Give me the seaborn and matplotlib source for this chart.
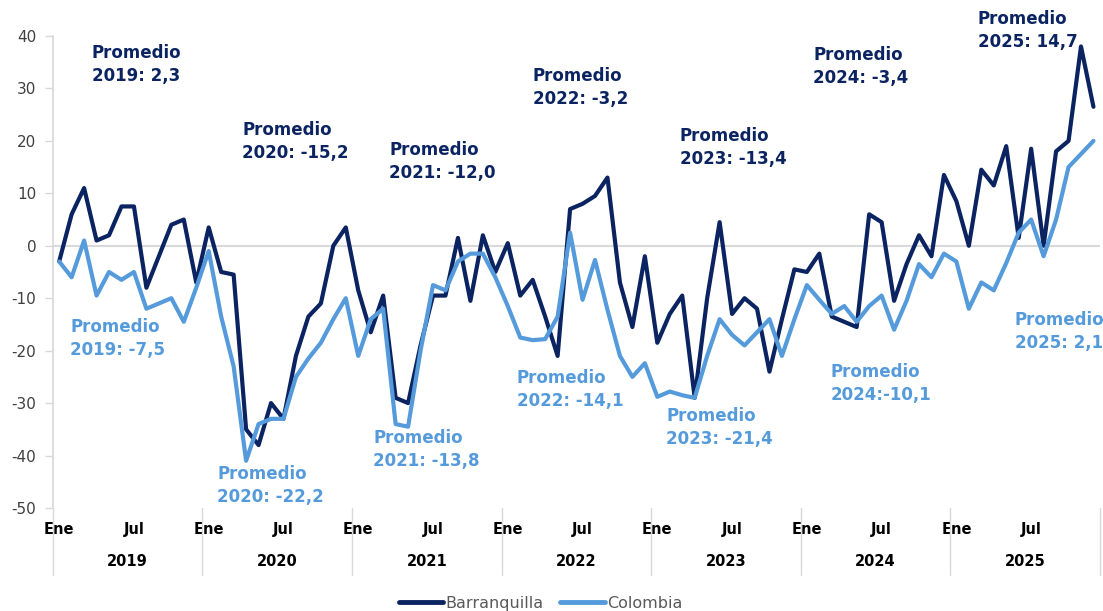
import numpy as np
import pandas as pd
import matplotlib
matplotlib.use("Agg")
import matplotlib.pyplot as plt
import matplotlib.transforms as mtransforms
import seaborn as sns

#########################
## Data (monthly, Ene 2019 - Dic 2025)
years = ["2019", "2020", "2021", "2022", "2023", "2024", "2025"]
month_ticks = ["Ene", "Jul"]

barranquilla = [
    -3, 6, 11, 1, 2, 7.5, 7.5, -8, -2, 4, 5, -7,              # 2019
    3.5, -5, -5.5, -35, -38, -30, -33, -21, -13.5, -11, 0, 3.5,  # 2020
    -8.5, -16.5, -9.5, -29, -30, -19, -9.5, -9.5, 1.5, -10.5, 2, -5,  # 2021
    0.5, -9.5, -6.5, -13.5, -21, 7, 8, 9.5, 13, -7, -15.5, -2,   # 2022
    -18.5, -13, -9.5, -29, -10, 4.5, -13, -10, -12, -24, -14, -4.5,  # 2023
    -5, -1.5, -13.5, -14.5, -15.5, 6, 4.5, -10.5, -3.5, 2, -2, 13.5,  # 2024
    8.5, 0, 14.5, 11.5, 19, 1.5, 18.5, 0, 18, 20, 38, 26.5,    # 2025
]
colombia = [
    -3, -6, 1, -9.5, -5, -6.5, -5, -12, -11, -10, -14.5, -8,    # 2019
    -1, -13.5, -23, -41, -34, -33, -33, -25, -21.5, -18.5, -14, -10,  # 2020
    -21, -14, -12, -34, -34.5, -20, -7.5, -8.5, -3, -1.5, -1.5, -6,  # 2021
    -11.5, -17.5, -18, -17.8, -13.5, 2.5, -10.3, -2.7, -12.2, -21, -25, -22.4,  # 2022
    -28.8, -27.8, -28.5, -29, -21, -14, -17, -19, -16.5, -14, -21, -14,  # 2023
    -7.5, -10.3, -13, -11.5, -14.5, -11.5, -9.5, -16, -10.5, -3.5, -6, -1.5,  # 2024
    -3, -12, -7, -8.5, -3.3, 2.5, 5, -2, 5, 15, 17.5, 20,      # 2025
]

prom_barranquilla = ["2019: 2,3", "2020: -15,2", "2021: -12,0", "2022: -3,2",
                     "2023: -13,4", "2024: -3,4", "2025: 14,7"]
prom_colombia = ["2019: -7,5", "2020: -22,2", "2021: -13,8", "2022: -14,1",
                 "2023: -21,4", "2024:-10,1", "2025: 2,1"]

# label anchors (month index, value of top edge)
pos_barranquilla = [(2.6, 38.5), (14.7, 23.7), (26.5, 20.0), (38.0, 34.0),
                    (49.8, 22.7), (60.5, 38.0), (73.7, 45.0)]
pos_colombia = [(0.9, -13.7), (12.7, -41.8), (25.2, -34.9), (36.7, -23.5),
                (48.7, -30.7), (61.9, -22.3), (76.7, -12.4)]

dark = "#0B2461"
light = "#559BDB"
grey = "#D9D9D9"

n = len(barranquilla)
df = pd.DataFrame({
    "mes": list(range(n)) * 2,
    "valor": barranquilla + colombia,
    "serie": ["Barranquilla"] * n + ["Colombia"] * n,
})

#########################
## Plot
sns.set_theme(style="white")
plt.rcParams["font.family"] = ["DejaVu Sans"]

fig = plt.figure(figsize=(11.03, 6.11), dpi=100)
ax = fig.add_axes([0.048, 0.1686, 0.949, 0.7725])

ax.axhline(0, color=grey, lw=1.5, zorder=0)

sns.lineplot(data=df, x="mes", y="valor", hue="serie",
             palette={"Barranquilla": dark, "Colombia": light},
             hue_order=["Barranquilla", "Colombia"],
             lw=3, ax=ax, solid_joinstyle="round", solid_capstyle="round")

ax.set_xlim(-0.5, n - 0.5)
ax.set_ylim(-50, 40)
ax.set_xlabel("")
ax.set_ylabel("")

yt = list(range(-50, 41, 10))
ax.set_yticks(yt)
ax.set_yticklabels([str(v) for v in yt], fontsize=11, color="#404040")
ax.tick_params(axis="y", length=6, color=grey, width=1, pad=6, left=True)

xt = []
xl = []
for i in range(len(years)):
    xt += [12 * i, 12 * i + 6]
    xl += month_ticks
ax.set_xticks(xt)
ax.set_xticklabels(xl, fontsize=10.5, fontweight="bold", color="black")
ax.tick_params(axis="x", length=0, pad=10)

for s in ["top", "right", "bottom"]:
    ax.spines[s].set_visible(False)
ax.spines["left"].set_color(grey)

trans = mtransforms.blended_transform_factory(ax.transData, ax.transAxes)
for i in range(len(years) + 1):
    ax.plot([12 * i - 0.5, 12 * i - 0.5], [0, -0.142], color=grey, lw=1,
            transform=trans, clip_on=False)
for i, y in enumerate(years):
    ax.text(12 * i + 5.5, -0.114, y, transform=trans, ha="center", va="center",
            fontsize=10.5, fontweight="bold", color="black")

for txt, (x, y) in zip(prom_barranquilla, pos_barranquilla):
    ax.text(x, y, "Promedio\n" + txt, ha="left", va="top", fontsize=12,
            fontweight="bold", color=dark, linespacing=1.35)
for txt, (x, y) in zip(prom_colombia, pos_colombia):
    ax.text(x, y, "Promedio\n" + txt, ha="left", va="top", fontsize=12,
            fontweight="bold", color=light, linespacing=1.35)

sns.move_legend(ax, "center", bbox_to_anchor=(0.49, 0.013),
                bbox_transform=fig.transFigure, ncol=2, title=None,
                frameon=False, fontsize=11.5, handlelength=2.8,
                handletextpad=0.15, columnspacing=1.0, labelcolor="#595959")
for line in ax.get_legend().get_lines():
    line.set_linewidth(3.5)

fig.savefig("out.png", dpi=100)
